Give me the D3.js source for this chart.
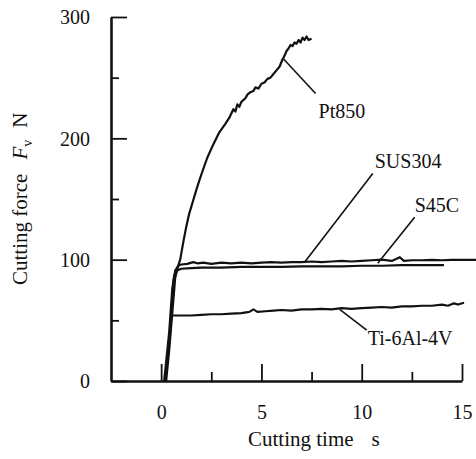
<!DOCTYPE html>
<html>
<head>
<meta charset="utf-8">
<script src="https://cdn.jsdelivr.net/npm/d3@7"></script>
<style>
  body { margin: 0; background: #fff; }
  svg text { font-family: "Liberation Serif", "DejaVu Serif", serif; fill: #111; }
</style>
</head>
<body>
<svg id="chart" width="476" height="459"></svg>
<script>
// cutting time (s) / cutting force Fv (N)
const pt850 = [
  [0.25, 0], [0.4, 25], [0.55, 55], [0.7, 85], [0.85, 95], [0.95, 100], [1.1, 114],
  [1.25, 127], [1.4, 138], [1.6, 149], [1.8, 160], [2.0, 170], [2.3, 184], [2.6, 195],
  [2.9, 205], [3.2, 212], [3.4, 217], [3.6, 224], [3.7, 222], [3.8, 228], [3.9, 226],
  [4.0, 230], [4.2, 233], [4.3, 236], [4.45, 238], [4.6, 239], [4.7, 242], [4.85, 241],
  [5.0, 245], [5.15, 246], [5.3, 249], [5.45, 250], [5.6, 253], [5.75, 256], [5.9, 259],
  [6.05, 265], [6.15, 268], [6.25, 272], [6.35, 274], [6.45, 277], [6.55, 276], [6.65, 279],
  [6.75, 278], [6.85, 281], [6.95, 279], [7.05, 283], [7.15, 281], [7.25, 284], [7.35, 281],
  [7.5, 282]
];
const sus304 = [
  [0.2, 0], [0.45, 40], [0.6, 80], [0.7, 91], [0.85, 95], [1.0, 96], [1.3, 96.5], [1.6, 98],
  [1.8, 97], [2.1, 97.5], [2.5, 96.5], [3.0, 97.5], [3.5, 97], [4.0, 97.5], [4.5, 97],
  [5.0, 97.5], [5.5, 98], [6.0, 97.5], [6.5, 98], [7.0, 98], [7.5, 98.5], [8.0, 98],
  [8.5, 98.5], [9.0, 99], [9.5, 98.5], [10.0, 99], [10.5, 99.5], [11.0, 100], [11.5, 99],
  [11.9, 102], [12.1, 99], [12.5, 99.5], [13.0, 99.5], [13.5, 99.8], [14.0, 99.5],
  [14.5, 99.8], [15.0, 99.8], [15.7, 99.8]
];
const s45c = [
  [0.15, 0], [0.4, 40], [0.55, 75], [0.65, 87], [0.8, 91], [1.0, 92.5], [1.5, 93], [2.0, 93.5],
  [3.0, 93.5], [4.0, 94], [5.0, 94], [6.0, 94], [7.0, 94.5], [8.0, 94.5], [9.0, 94.5],
  [10.0, 95], [11.0, 95], [12.0, 95.5], [13.0, 95.5], [14.1, 95.5]
];
const ti6al4v = [
  [0.2, 0], [0.4, 35], [0.52, 54], [0.8, 54], [1.5, 54], [2.0, 54.5], [2.5, 55], [3.0, 55],
  [3.5, 55.5], [4.0, 56], [4.4, 57], [4.6, 59], [4.8, 57], [5.2, 57.5], [5.6, 58], [6.0, 58.5],
  [6.5, 58], [7.0, 59], [7.5, 59], [8.0, 59.5], [8.5, 59], [9.0, 60], [9.5, 59.5], [10.0, 60],
  [10.5, 60.5], [11.0, 61], [11.5, 60.5], [12.0, 61.5], [12.5, 61.5], [13.0, 62], [13.5, 62],
  [14.0, 63], [14.3, 62], [14.6, 64], [14.8, 63], [15.1, 64.5]
];

// label text, point on curve, end of leader, text anchor point (data units)
const labels = [
  { text: 'Pt850',     from: [6.07, 266], to: [7.7, 237],   at: [7.85, 217] },
  { text: 'SUS304',    from: [7.16, 98],  to: [10.55, 171], at: [10.65, 175.5] },
  { text: 'S45C',      from: [10.8, 97],  to: [12.64, 135], at: [12.64, 139.5] },
  { text: 'Ti-6Al-4V', from: [8.9, 59],   to: [10.25, 42],  at: [10.3, 29.5] }
];

const xMajor = [0, 5, 10, 15];
const xMinor = [2.5, 7.5, 12.5];
const yMajor = [0, 100, 200, 300];
const yMinor = [50, 150, 250];

const svg = d3.select('#chart');

const x = d3.scaleLinear().domain([-2.5, 15]).range([111, 462]);
const y = d3.scaleLinear().domain([0, 300]).range([381, 17]);

// axes
const gx = svg.append('g').attr('transform', 'translate(0,381)');
gx.call(d3.axisBottom(x).tickValues(xMajor).tickSizeInner(-17).tickSizeOuter(0).tickPadding(24));
gx.append('g').call(d3.axisBottom(x).tickValues(xMinor).tickSizeInner(-9).tickSizeOuter(0).tickFormat(''))
  .select('.domain').remove();

const gy = svg.append('g').attr('transform', 'translate(111,0)');
gy.call(d3.axisLeft(y).tickValues(yMajor).tickSizeInner(-16).tickSizeOuter(0).tickPadding(21));
gy.append('g').call(d3.axisLeft(y).tickValues(yMinor).tickSizeInner(-8).tickSizeOuter(0).tickFormat(''))
  .select('.domain').remove();

svg.selectAll('.domain').attr('stroke', '#111').attr('stroke-width', 2.6);
svg.selectAll('.tick line').attr('stroke', '#111').attr('stroke-width', 1.8);
svg.selectAll('.tick text').attr('font-size', 20).attr('font-family', '"Liberation Serif", serif').attr('fill', '#111');
gx.selectAll('.tick text').attr('dy', null).attr('y', 38);
gy.selectAll('.tick text').attr('dy', '0.34em');

// curves
const line = d3.line().x(d => x(d[0])).y(d => y(d[1]));
[pt850, sus304, s45c, ti6al4v].forEach(s => {
  svg.append('path')
    .datum(s)
    .attr('fill', 'none')
    .attr('stroke', '#111')
    .attr('stroke-width', 2.2)
    .attr('stroke-linejoin', 'round')
    .attr('d', line);
});

// leaders and names
labels.forEach(l => {
  svg.append('line')
    .attr('x1', x(l.from[0])).attr('y1', y(l.from[1]))
    .attr('x2', x(l.to[0])).attr('y2', y(l.to[1]))
    .attr('stroke', '#111').attr('stroke-width', 1.6);
  svg.append('text')
    .attr('x', x(l.at[0])).attr('y', y(l.at[1]))
    .attr('font-size', 20)
    .text(l.text);
});

// axis titles
const xt = svg.append('text').attr('x', 248).attr('y', 446).attr('font-size', 21);
xt.append('tspan').text('Cutting time');
xt.append('tspan').attr('dx', 18).text('s');

const yt = svg.append('text')
  .attr('transform', 'translate(27,285) rotate(-90)')
  .attr('font-size', 21);
yt.append('tspan').text('Cutting force');
yt.append('tspan').attr('dx', 14).attr('font-style', 'italic').text('F');
yt.append('tspan').attr('font-size', 14).attr('dy', 5).text('v');
yt.append('tspan').attr('dx', 12).attr('dy', -5).text('N');
</script>
</body>
</html>
